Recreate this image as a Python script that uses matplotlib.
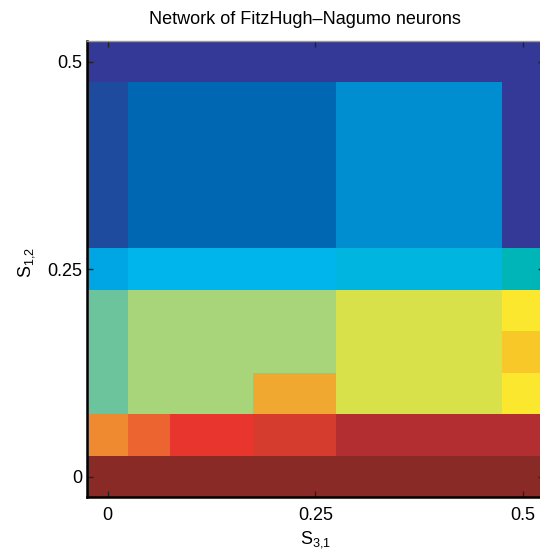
import matplotlib
matplotlib.use('Agg')
import matplotlib.pyplot as plt
from matplotlib.colors import ListedColormap, BoundaryNorm
import numpy as np

plt.rcParams['font.family'] = ['Liberation Sans', 'DejaVu Sans']

# coupling strengths on each axis
s31 = [0.0, 0.05, 0.10, 0.15, 0.20, 0.25, 0.30, 0.35, 0.40, 0.45, 0.50]
s12 = [0.0, 0.05, 0.10, 0.15, 0.20, 0.25, 0.30, 0.35, 0.40, 0.45, 0.50]

# discrete colour levels used by the regime map
level_colors = ['#343896', '#1e4b9e', '#0068b2', '#008ed0', '#00a6e4',
                '#00b4ec', '#00b6e0', '#00b5b8', '#6cc49c', '#a8d47a',
                '#d8e04a', '#fbe72e', '#f8c828', '#f0a830', '#f08a30',
                '#ec6530', '#e8362e', '#d63c2e', '#b22e30', '#8a2a26']

# regime level per cell, rows from S12 = 0 up to S12 = 0.5
regime = [
    [19, 19, 19, 19, 19, 19, 19, 19, 19, 19, 19],
    [14, 15, 16, 16, 17, 17, 18, 18, 18, 18, 18],
    [8, 9, 9, 9, 13, 13, 10, 10, 10, 10, 11],
    [8, 9, 9, 9, 9, 9, 10, 10, 10, 10, 12],
    [8, 9, 9, 9, 9, 9, 10, 10, 10, 10, 11],
    [4, 5, 5, 5, 5, 5, 6, 6, 6, 6, 7],
    [1, 2, 2, 2, 2, 2, 3, 3, 3, 3, 0],
    [1, 2, 2, 2, 2, 2, 3, 3, 3, 3, 0],
    [1, 2, 2, 2, 2, 2, 3, 3, 3, 3, 0],
    [1, 2, 2, 2, 2, 2, 3, 3, 3, 3, 0],
    [0, 0, 0, 0, 0, 0, 0, 0, 0, 0, 0],
]

cmap = ListedColormap(level_colors)
norm = BoundaryNorm(np.arange(len(level_colors) + 1) - 0.5, cmap.N)

fig = plt.figure(figsize=(5.4, 5.53), dpi=100)
ax = fig.add_axes([0.1611, 0.1004, 0.8454, 0.8255])

ax.pcolormesh(s31, s12, np.array(regime), cmap=cmap, norm=norm, shading='nearest')
ax.set_xlim(-0.025, 0.525)
ax.set_ylim(-0.025, 0.525)

ax.set_xticks([0, 0.25, 0.5])
ax.set_xticklabels(['0', '0.25', '0.5'])
ax.set_yticks([0, 0.25, 0.5])
ax.set_yticklabels(['0', '0.25', '0.5'])
ax.tick_params(direction='in', length=4, width=1, color='#222222',
               labelsize=13, top=True, right=True)
ax.tick_params(axis='x', pad=6.5)
ax.tick_params(axis='y', pad=3.5)

ax.spines['left'].set_linewidth(1.8)
ax.spines['bottom'].set_linewidth(1.8)
ax.spines['top'].set_color('#999999')
ax.spines['top'].set_linewidth(1.0)

fig.text(305 / 540, 1 - 20 / 553, 'Network of FitzHugh\u2013Nagumo neurons',
         fontsize=13, ha='center', va='center')
ax.set_xlabel('$\\mathregular{S_{3{,}1}}$', fontsize=13, labelpad=4)
ax.set_ylabel('$\\mathregular{S_{1{,}2}}$', fontsize=13)
ax.yaxis.set_label_coords(-0.1095, 0.515)

plt.savefig('out.png')
plt.close()
